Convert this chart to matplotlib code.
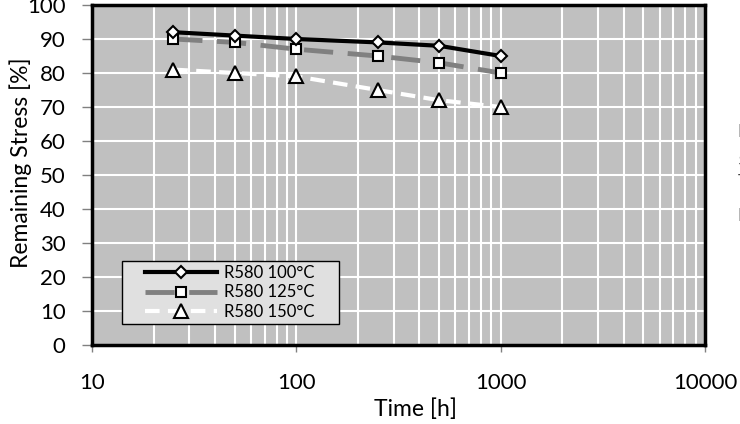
import numpy as np
import matplotlib
matplotlib.use("Agg")
import matplotlib.pyplot as plt
from matplotlib.patches import Rectangle
from matplotlib.ticker import LogLocator, NullFormatter, FixedLocator, FixedFormatter

plt.rcParams['font.family'] = ['Lato', 'DejaVu Sans']

time_h = [25, 50, 100, 250, 500, 1000]
stress_100 = [92, 91, 90, 89, 88, 85]
stress_125 = [90, 89, 87, 85, 83, 80]
stress_150 = [81, 80, 79, 75, 72, 70]
labels = ['R580 100°C', 'R580 125°C', 'R580 150°C']
y_ticks = list(range(0, 101, 10))
x_ticks = [10, 100, 1000, 10000]

W, H = 740, 424
fig = plt.figure(figsize=(W / 100, H / 100), dpi=100)
ax = fig.add_axes([92 / W, 1 - 345 / H, (705 - 92) / W, (345 - 5) / H])
ax.set_facecolor('#C0C0C0')

ax.plot(time_h, stress_100, color='black', lw=3, marker='D', ms=6.5,
        mfc='white', mec='black', mew=1.5, label=labels[0], zorder=5)
ax.plot(time_h, stress_125, color='#808080', lw=3.5, ls=(0, (6, 3)), marker='s', ms=7.5,
        mfc='white', mec='black', mew=1.5, label=labels[1], zorder=4)
ax.plot(time_h, stress_150, color='white', lw=3, ls=(0, (3.5, 2)), marker='^', ms=10,
        mfc='white', mec='black', mew=1.5, label=labels[2], zorder=3)

ax.set_xscale('log')
ax.set_xlim(10, 10000)
ax.set_ylim(0, 100)
ax.xaxis.set_major_locator(FixedLocator(x_ticks))
ax.xaxis.set_major_formatter(FixedFormatter([str(v) for v in x_ticks]))
ax.xaxis.set_minor_locator(LogLocator(base=10, subs=np.arange(2, 10)))
ax.xaxis.set_minor_formatter(NullFormatter())
ax.set_yticks(y_ticks)

ax.grid(True, which='major', color='white', lw=1.5, zorder=0)
ax.grid(True, which='minor', axis='x', color='white', lw=1.5, zorder=0)
ax.set_axisbelow(True)

for s in ax.spines.values():
    s.set_color('black')
    s.set_linewidth(2.5)

ax.tick_params(axis='x', which='major', length=5, width=1, color='#808080',
               labelsize=16, pad=15, labelcolor='black')
ax.tick_params(axis='x', which='minor', length=0)
ax.tick_params(axis='y', which='major', length=7, width=1, color='#808080',
               labelsize=16, pad=12, labelcolor='black')

ax.set_xlabel('Time [h]', fontsize=16.5, va='center')
ax.xaxis.set_label_coords((415 - 92) / 613, -(409 - 345) / 340)
ax.set_ylabel('Remaining Stress [%]', fontsize=16.5, va='center')
ax.yaxis.set_label_coords((21 - 92) / 613, (345 - 163) / 340)

# legend box
ax.add_patch(Rectangle(((122 - 92) / 613, (345 - 324) / 340), (339 - 122) / 613,
                       (324 - 261) / 340, transform=ax.transAxes, facecolor='#E0E0E0',
                       edgecolor='black', lw=1, zorder=6))
leg = ax.legend(loc='center', bbox_to_anchor=((230 - 92) / 613, (345 - 292.5) / 340),
                fontsize=12, frameon=False, handlelength=4.3, borderpad=0,
                labelspacing=0.22, handletextpad=0.45)
leg.set_zorder(7)

# partial texts cut off at the figure edges
fig.text(30 / W, 1 - 425.5 / H, '100', fontsize=16, va='top', ha='left')
for txt, yy in [('R', 132), ('5', 160), ('T', 182), ('R', 216)]:
    fig.text(737.5 / W, 1 - yy / H, txt, fontsize=13, color='#404040', va='center', ha='left')

fig.savefig('out.png', dpi=100)
